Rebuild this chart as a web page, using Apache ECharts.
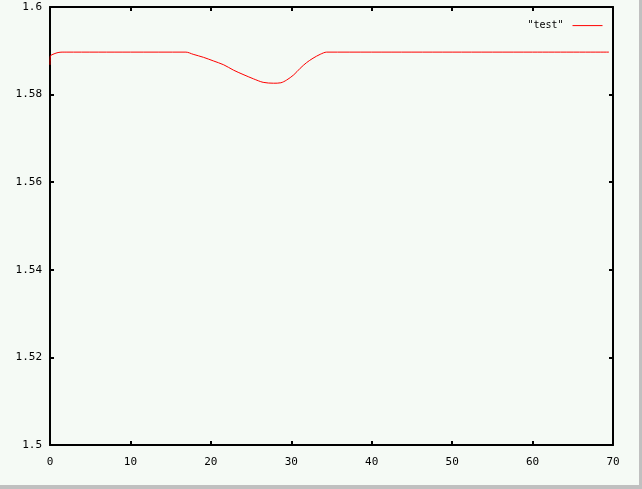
<!DOCTYPE html>
<html>
<head>
<meta charset="utf-8">
<script src="https://cdn.jsdelivr.net/npm/echarts@6/dist/echarts.min.js"></script>
<style>
html,body{margin:0;padding:0;background:#f5faf5;}
#c{width:642px;height:489px;}
</style>
</head>
<body>
<div id="c"></div>
<script>
var seriesName = '"test"';
var xs = [0, 0.05, 0.5, 1, 1.5, 2, 10, 16.9, 17.8, 19.1, 20.3, 21.6, 22.8, 24.0, 25.3, 26.5, 27.8, 28.7, 29.4, 30.3, 31.1, 31.9, 32.7, 33.6, 34.4, 40, 50, 60, 69.5];
var ys = [1.5868, 1.5888, 1.5893, 1.5896, 1.5897, 1.5897, 1.5897, 1.5897, 1.5892, 1.5885, 1.5877, 1.5868, 1.5856, 1.5846, 1.5836, 1.5828, 1.5826, 1.5827, 1.5833, 1.5845, 1.5860, 1.5873, 1.5883, 1.5892, 1.5897, 1.5897, 1.5897, 1.5897, 1.5897];
var xTicks = {min: 0, max: 70, interval: 10};
var yTicks = {min: 1.5, max: 1.6, interval: 0.02};

var data = xs.map(function (x, i) { return [x, ys[i]]; });
var font = 'DejaVu Sans Mono';
var axisCommon = {
  type: 'value',
  axisLine: {show: true, onZero: false, lineStyle: {color: '#000', width: 2}},
  axisTick: {show: true, inside: true, length: 4, lineStyle: {color: '#000', width: 2}},
  splitLine: {show: false}
};
var chart = echarts.init(document.getElementById('c'), null, {renderer: 'canvas'});
chart.setOption({
  backgroundColor: '#f5faf5',
  animation: false,
  grid: {left: 50, right: 29, top: 7, bottom: 44},
  legend: {
    right: 34, top: 15, itemWidth: 30, itemHeight: 14, align: 'right',
    textStyle: {fontFamily: font, fontSize: 10, color: '#000', padding: [0, 4, 0, 0]},
    lineStyle: {color: '#ff0000', width: 1},
    itemStyle: {opacity: 0},
    data: [seriesName]
  },
  xAxis: [
    Object.assign({}, axisCommon, {position: 'bottom', min: xTicks.min, max: xTicks.max, interval: xTicks.interval,
      axisLabel: {margin: 12, fontFamily: font, fontSize: 11, color: '#000'}}),
    Object.assign({}, axisCommon, {position: 'top', min: xTicks.min, max: xTicks.max, interval: xTicks.interval,
      axisLabel: {show: false}})
  ],
  yAxis: [
    Object.assign({}, axisCommon, {position: 'left', min: yTicks.min, max: yTicks.max, interval: yTicks.interval,
      axisLabel: {margin: 8, fontFamily: font, fontSize: 11, color: '#000'}}),
    Object.assign({}, axisCommon, {position: 'right', min: yTicks.min, max: yTicks.max, interval: yTicks.interval,
      axisLabel: {show: false}})
  ],
  graphic: [
    {type: 'rect', shape: {x: 0, y: 485, width: 642, height: 4}, style: {fill: '#c0c0c0'}, silent: true},
    {type: 'rect', shape: {x: 639, y: 0, width: 3, height: 489}, style: {fill: '#c0c0c0'}, silent: true}
  ],
  series: [{
    name: seriesName, type: 'line', data: data, smooth: 0.3, showSymbol: false, symbol: 'none',
    lineStyle: {color: '#ff0000', width: 1}, itemStyle: {color: '#ff0000'}
  }]
});
</script>
</body>
</html>
